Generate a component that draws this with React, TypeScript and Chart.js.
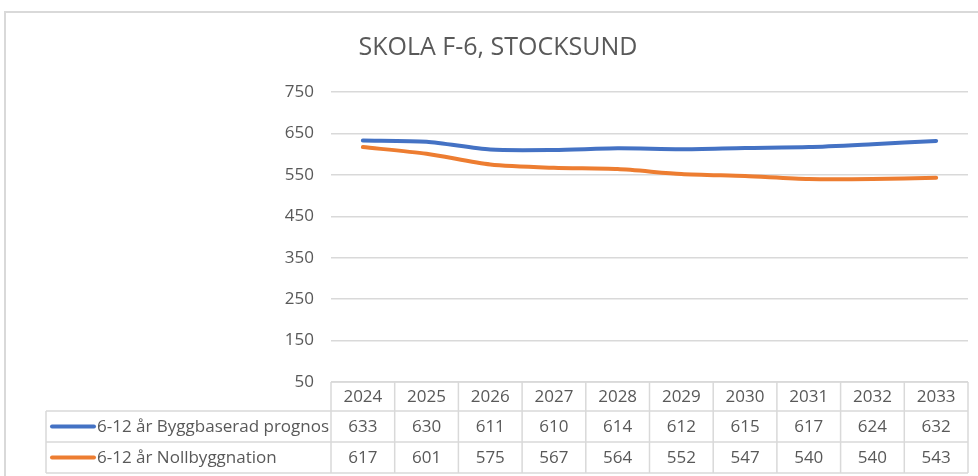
import React, { useEffect, useRef } from "react";
import { Chart, registerables } from "chart.js";

Chart.register(...registerables);

const chartTitle = "SKOLA F-6, STOCKSUND";
const categories = ["2024", "2025", "2026", "2027", "2028", "2029", "2030", "2031", "2032", "2033"];
const seriesNames = ["6-12 år Byggbaserad prognos", "6-12 år Nollbyggnation"];
const byggValues = [633, 630, 611, 610, 614, 612, 615, 617, 624, 632];
const nollValues = [617, 601, 575, 567, 564, 552, 547, 540, 540, 543];
const seriesColors = ["#4472C4", "#ED7D31"];
const yMin = 50;
const yMax = 750;
const yStep = 100;

const FONT = "'Open Sans'";
const TEXT = "#595959";
const GRID = "#d9d9d9";

const framePlugin = {
  id: "frame",
  beforeDraw(chart: any) {
    const ctx = chart.ctx;
    ctx.save();
    ctx.strokeStyle = GRID;
    ctx.lineWidth = 2;
    ctx.strokeRect(5, 12, chart.width + 20, chart.height + 20);
    ctx.fillStyle = TEXT;
    ctx.font = `25px ${FONT}`;
    ctx.textAlign = "center";
    ctx.textBaseline = "middle";
    ctx.fillText(chartTitle, 498, 48);
    ctx.restore();
  },
};

const tablePlugin = {
  id: "dataTable",
  afterDraw(chart: any) {
    const ctx = chart.ctx;
    const area = chart.chartArea;
    const xs = chart.scales.x;
    const n = chart.data.labels.length;
    const w = (area.right - area.left) / n;
    const top = area.bottom;
    const rows = [29, 31, 31];
    const legendLeft = 46;
    const y1 = top + rows[0];
    const y2 = y1 + rows[1];
    const y3 = y2 + rows[2];
    ctx.save();
    ctx.strokeStyle = GRID;
    ctx.lineWidth = 1.5;
    ctx.beginPath();
    ctx.moveTo(area.left, top);
    ctx.lineTo(area.right, top);
    [y1, y2, y3].forEach((y) => {
      ctx.moveTo(legendLeft, y);
      ctx.lineTo(area.right, y);
    });
    for (let i = 0; i <= n; i++) {
      const x = area.left + i * w;
      ctx.moveTo(x, top);
      ctx.lineTo(x, y3);
    }
    ctx.moveTo(legendLeft, y1);
    ctx.lineTo(legendLeft, y3);
    ctx.stroke();

    ctx.fillStyle = TEXT;
    ctx.font = `17px ${FONT}`;
    ctx.textAlign = "center";
    ctx.textBaseline = "middle";
    chart.data.labels.forEach((lab: string, i: number) => {
      const cx = xs.getPixelForValue(i);
      ctx.fillText(lab, cx, top + rows[0] / 2 + 1);
    });
    const rowCenters = [y1 + rows[1] / 2, y2 + rows[2] / 2];
    chart.data.datasets.forEach((ds: any, di: number) => {
      const cy = rowCenters[di];
      ds.data.forEach((v: number, i: number) => {
        ctx.fillText(String(v), xs.getPixelForValue(i), cy + 1);
      });
      ctx.strokeStyle = ds.borderColor;
      ctx.lineWidth = 4;
      ctx.lineCap = "round";
      ctx.beginPath();
      ctx.moveTo(52, cy);
      ctx.lineTo(94, cy);
      ctx.stroke();
      ctx.textAlign = "left";
      ctx.fillText(ds.label, 97, cy + 1);
      ctx.textAlign = "center";
    });
    ctx.restore();
  },
};

export default function App() {
  const ref = useRef<HTMLCanvasElement | null>(null);
  useEffect(() => {
    if (!ref.current) return;
    const chart = new Chart(ref.current, {
      type: "line",
      data: {
        labels: categories,
        datasets: [
          {
            label: seriesNames[0],
            data: byggValues,
            borderColor: seriesColors[0],
            backgroundColor: seriesColors[0],
            borderWidth: 4,
            pointRadius: 0,
            tension: 0.25,
            borderCapStyle: "round",
            borderJoinStyle: "round",
          },
          {
            label: seriesNames[1],
            data: nollValues,
            borderColor: seriesColors[1],
            backgroundColor: seriesColors[1],
            borderWidth: 4,
            pointRadius: 0,
            tension: 0.25,
            borderCapStyle: "round",
            borderJoinStyle: "round",
          },
        ],
      },
      options: {
        responsive: false,
        animation: false,
        layout: { padding: { left: 260, right: 10, top: 92, bottom: 94 } },
        plugins: {
          legend: { display: false },
          tooltip: { enabled: false },
          title: { display: false },
        },
        scales: {
          x: { display: false, offset: true },
          y: {
            min: yMin,
            max: yMax,
            ticks: {
              stepSize: yStep,
              color: TEXT,
              font: { family: "Open Sans", size: 17 },
              padding: 17,
            },
            grid: { color: GRID, lineWidth: 1.5, drawTicks: false },
            border: { display: false },
            afterFit(s: any) {
              s.width = 71;
            },
          },
        },
      },
      plugins: [framePlugin, tablePlugin],
    } as any);
    return () => chart.destroy();
  }, []);
  return (
    <div style={{ position: "absolute", left: 0, top: 0, width: 978, height: 476, background: "#fff" }}>
      <canvas ref={ref} width={978} height={476} />
    </div>
  );
}
